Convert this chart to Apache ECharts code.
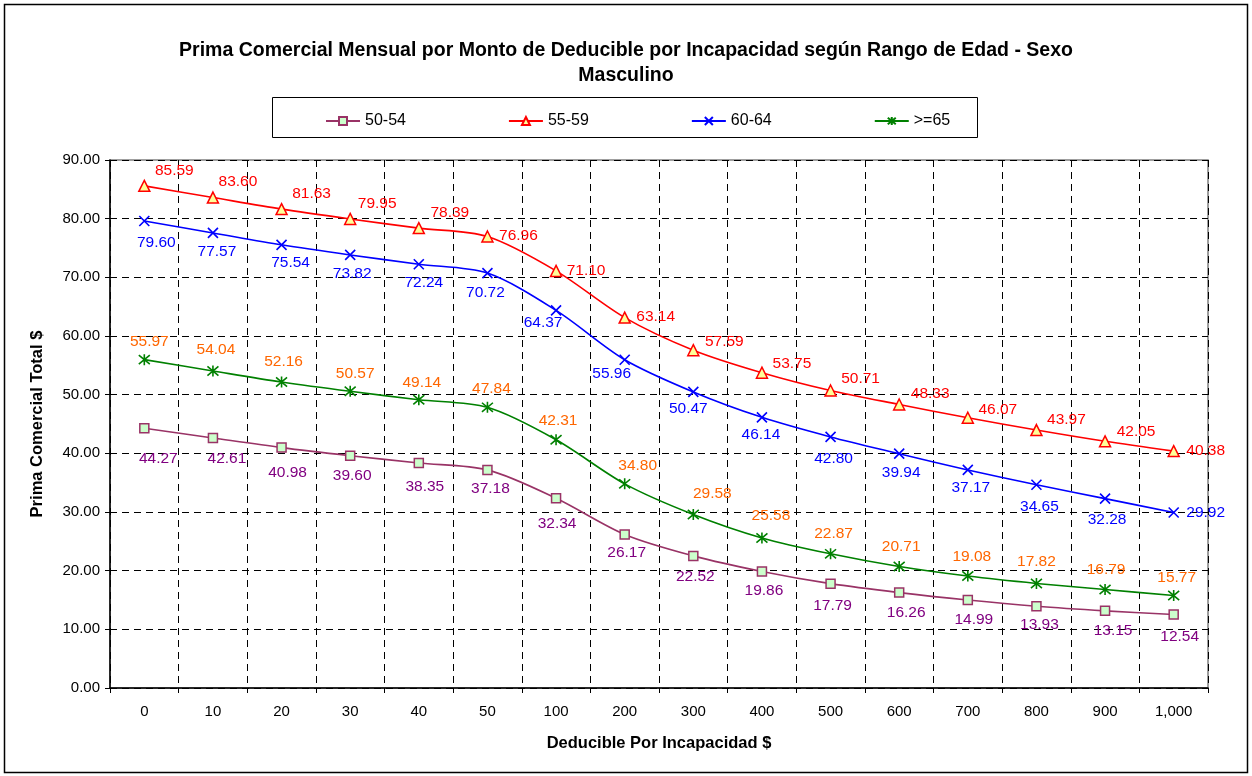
<!DOCTYPE html>
<html>
<head>
<meta charset="utf-8">
<script src="https://cdn.jsdelivr.net/npm/echarts@6/dist/echarts.min.js"></script>
<style>
html,body{margin:0;padding:0;background:#fff;}
#c{width:1252px;height:776px;}
</style>
</head>
<body>
<div id="c"></div>
<script>
// ---- data ----
var categories = ['0','10','20','30','40','50','100','200','300','400','500','600','700','800','900','1,000'];
var yTickValues = [0,10,20,30,40,50,60,70,80,90];
var s5054 = [44.27,42.61,40.98,39.60,38.35,37.18,32.34,26.17,22.52,19.86,17.79,16.26,14.99,13.93,13.15,12.54];
var s5559 = [85.59,83.60,81.63,79.95,78.39,76.96,71.10,63.14,57.59,53.75,50.71,48.33,46.07,43.97,42.05,40.38];
var s6064 = [79.60,77.57,75.54,73.82,72.24,70.72,64.37,55.96,50.47,46.14,42.80,39.94,37.17,34.65,32.28,29.92];
var s65   = [55.97,54.04,52.16,50.57,49.14,47.84,42.31,34.80,29.58,25.58,22.87,20.71,19.08,17.82,16.79,15.77];
var seriesNames = ['50-54','55-59','60-64','>=65'];

// ---- label placement (styling, offsets from marker centre in px) ----
var off5054 = [[14,30],[14,21],[6,25],[2,20],[6,24],[3,19],[1,25],[2,18],[2,21],[2,19],[2,22],[7,20],[6,20],[3,18],[8,20],[6,22]];
var off5559 = [[30,-15],[25,-16],[30,-15],[27,-15],[31,-15],[31,-1],[30,0],[31,-1],[31,-8],[30,-9],[30,-12],[31,-11],[30,-8],[30,-10],[31,-10],[32,0]];
var off6064 = [[12,22],[4,19],[9,18],[2,19],[5,19],[-2,20],[-13,12],[-13,14],[-5,17],[-1,17],[3,22],[2,19],[3,18],[3,22],[2,21],[32,0]];
var off65   = [[5,-18],[3,-21],[2,-20],[5,-18],[3,-17],[4,-19],[2,-19],[13,-18],[19,-21],[9,-22],[3,-20],[2,-20],[4,-19],[0,-22],[1,-20],[3,-18]];

function build(vals, offs){
  return vals.map(function(v,i){
    return {value:v, label:{offset:offs[i]}};
  });
}

var FONT = '"Liberation Sans", Arial, sans-serif';
var xPath = 'path://M0,0L10,10M10,0L0,10';
var starPath = 'path://M0,0L10,10M10,0L0,10M5,-1L5,11';

function mkSeries(name, vals, offs, lineColor, labelColor, symbol, size, fill, border, bw){
  return {
    name:name, type:'line', data:build(vals, offs),
    smooth:0.3,
    symbol:symbol, symbolSize:size, showAllSymbol:true,
    lineStyle:{color:lineColor, width:1.6},
    itemStyle:{color:fill, borderColor:border, borderWidth:bw},
    label:{show:true, position:'inside', color:labelColor, fontFamily:FONT, fontSize:15.5,
      formatter:function(p){return p.value.toFixed(2);}},
    emphasis:{disabled:true},
    z:3
  };
}

var chart = echarts.init(document.getElementById('c'), null, {renderer:'canvas'});
chart.setOption({
  animation:false,
  backgroundColor:'#fff',
  title:{
    text:'Prima Comercial Mensual por Monto de Deducible por Incapacidad según Rango de Edad - Sexo\nMasculino',
    left:'center', top:33,
    textStyle:{fontFamily:FONT, fontSize:19.5, fontWeight:'bold', color:'#000', lineHeight:25}
  },
  graphic:[
    {type:'rect', shape:{x:4.5,y:4.5,width:1243,height:768}, style:{fill:'none', stroke:'#000', lineWidth:1.5}, z:-10},
    {type:'rect', shape:{x:272.5,y:97.5,width:705,height:40}, style:{fill:'#fff', stroke:'#000', lineWidth:1}, z:-5}
  ],
  legend:{
    data:seriesNames, left:320, top:108, itemWidth:34, itemHeight:10, itemGap:102,
    textStyle:{fontFamily:FONT, fontSize:16, color:'#000'},
    selectedMode:false
  },
  grid:{left:110, right:44, top:160, bottom:88, show:true, borderColor:'#808080', borderWidth:1.5, backgroundColor:'#fff'},
  xAxis:{
    type:'category', data:categories, boundaryGap:true,
    name:'Deducible Por Incapacidad $', nameLocation:'middle', nameGap:47,
    nameTextStyle:{fontFamily:FONT, fontSize:16.5, fontWeight:'bold', color:'#000'},
    axisLine:{lineStyle:{color:'#000', width:1.5}},
    axisTick:{show:true, length:5, lineStyle:{color:'#000'}},
    axisLabel:{fontFamily:FONT, fontSize:15, color:'#000', margin:16, interval:0},
    splitLine:{show:true, interval:0, lineStyle:{color:'#000', type:[7,5], width:1}}
  },
  yAxis:{
    type:'value', min:0, max:90, interval:10,
    name:'Prima Comercial Total $', nameLocation:'middle', nameGap:64, nameRotate:90,
    nameTextStyle:{fontFamily:FONT, fontSize:16.5, fontWeight:'bold', color:'#000'},
    axisLine:{show:true, lineStyle:{color:'#000', width:1.5}},
    axisTick:{show:true, length:5, lineStyle:{color:'#000'}},
    axisLabel:{fontFamily:FONT, fontSize:15, color:'#000', margin:10,
      formatter:function(v){return yTickValues.indexOf(v)>=0 ? v.toFixed(2) : '';}},
    splitLine:{show:true, lineStyle:{color:'#000', type:[7,5], width:1}}
  },
  series:[
    mkSeries('50-54', s5054, off5054, '#993366', '#800080', 'rect', 9, '#CCFFCC', '#993366', 1.5),
    mkSeries('55-59', s5559, off5559, '#FF0000', '#FF0000', 'triangle', 11, '#FFFF99', '#FF0000', 1.5),
    mkSeries('60-64', s6064, off6064, '#0000FF', '#0000FF', xPath, 10, '#0000FF', '#0000FF', 1.6),
    mkSeries('>=65', s65, off65, '#008000', '#FF6600', starPath, 11, '#008000', '#008000', 1.6)
  ]
});
</script>
</body>
</html>
